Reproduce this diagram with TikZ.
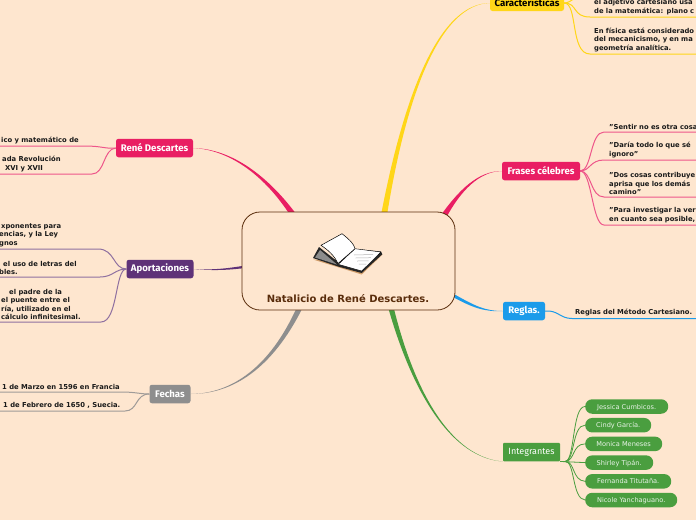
\documentclass[tikz,border=0pt]{standalone}
\usepackage{fontspec}
\setmainfont{DejaVu Sans}
\newfontfamily\hubfont{Fira Sans}
\usetikzlibrary{positioning, backgrounds}
\definecolor{peachbg}{HTML}{FEE6CF}
\definecolor{rootbrown}{HTML}{5A2D0C}
\definecolor{renepink}{HTML}{E91E63}
\definecolor{aportpurple}{HTML}{5F3278}
\definecolor{fechasgrey}{HTML}{8E8E8E}
\definecolor{caractyellow}{HTML}{FFD618}
\definecolor{reglasblue}{HTML}{1B9BEA}
\definecolor{integreen}{HTML}{4A9E3F}
\definecolor{darktext}{HTML}{1A1A1A}

\begin{document}
\begin{tikzpicture}[
    x=1pt, y=-1pt,
    % --- node styles ---
    root/.style={
        rectangle, rounded corners=18pt, minimum width=213pt, minimum height=98pt,
        draw=rootbrown, line width=0.8pt, fill=peachbg
    },
    roottitle/.style={font=\bfseries\fontsize{10}{12}\selectfont, text=rootbrown, inner sep=0pt},
    hub/.style={
        rectangle, rounded corners=2.5pt, inner sep=0pt, minimum height=18.5pt,
        text=white, font=\hubfont\fontseries{sb}\fontsize{9.6}{11}\selectfont
    },
    leaf/.style={
        inner xsep=0pt, inner ysep=2.2pt, align=left, text=darktext,
        font=\bfseries\fontsize{6.8}{8.4}\selectfont
    },
    pill/.style={
        rectangle, rounded corners=7pt, inner sep=0pt, minimum height=14.5pt,
        fill=integreen, text=white!88!integreen, text depth=0pt,
        font=\fontsize{6.6}{8}\selectfont
    },
    renebranch/.style={draw=renepink!75, line width=1pt},
    aportbranch/.style={draw=aportpurple!70, line width=1pt},
    fechasbranch/.style={draw=fechasgrey!85!peachbg, line width=1pt},
    caractbranch/.style={draw=caractyellow, line width=1pt},
    reglasbranch/.style={draw=reglasblue, line width=1pt},
    integbranch/.style={draw=integreen, line width=0.8pt},
]

\useasboundingbox (0,0) rectangle (696,520);
\clip (0,0) rectangle (696,520);

% ===== ROOT =====
\node[root] (root) at (348.5,261) {};
\node[roottitle] (roottext) at (348,299) {Natalicio de René Descartes.};

% ===== BOOK =====
\fill[brown!70!peachbg] (313,259.5) -- (361.7,274.5) -- (382.5,254.5) -- (360,262) -- cycle;
\fill[black!85] (313,258) -- (319,247) -- (338,262) -- (355,249) -- (381,251.5) -- (382.3,254.3) -- (361.7,273) -- (338,266.5) -- cycle;
\fill[black!45] (315,257.5) -- (320,250) -- (337,264.5) -- cycle;
\fill[white, draw=black, line width=0.4pt] (355,248.7) -- (381,252) -- (361.7,271) -- (338.3,264.3) -- cycle;
\foreach \i in {0,1,2,3} {
    \draw[black!30, line width=0.5pt] (354+\i*1.6,255+\i*3) -- (373-\i*2.2,254.5+\i*3.2);
}
\fill[white, draw=black, line width=0.5pt] (321,245.3) -- (342,233.7) .. controls (350,240) and (354,244) .. (355,248.7) -- (338,263.5) .. controls (334,255) and (328,250) .. (321,245.3) -- cycle;

% ===== HUBS =====
\node[hub, fill=renepink, minimum width=77pt] (rene) at (154.5,148) {René Descartes};
\node[hub, fill=aportpurple, minimum width=67pt] (aport) at (160,269) {Aportaciones};
\node[hub, fill=fechasgrey, minimum width=41pt] (fechas) at (170,394) {Fechas};
\node[hub, fill=caractyellow, text=black, minimum width=74pt, minimum height=16pt] (caract) at (527,3) {Características};
\node[hub, fill=renepink, minimum width=78pt] (frases) at (541,171) {Frases célebres};
\node[hub, fill=reglasblue, minimum width=42pt] (reglas) at (524,311) {Reglas.};
\node[hub, fill=integreen, minimum width=57pt, rounded corners=1pt, font=\hubfont\fontsize{9}{11}\selectfont] (integ) at (531.5,452) {Integrantes};

% ===== LEFT LEAVES =====
\node[leaf, anchor=south west] (rene1) at (-1,146) {\hspace*{2pt}ico y matemático de};
\node[leaf, anchor=south west] (rene2) at (-1,174) {\hspace*{3pt}ada Revolución\\\hspace*{6pt}XVI y XVII};

\node[leaf, anchor=south west] (aport1) at (-1,249) {\hspace*{2pt}xponentes para\\encias, y la Ley\\gnos};
\node[leaf, anchor=south west] (aport2) at (-1,277) {\hspace*{4pt}el uso de letras del\\bles.};
\node[leaf, anchor=south west] (aport3) at (-1,322) {\hspace*{10pt}el padre de la\\\hspace*{2pt}el puente entre el\\\hspace*{2pt}ría, utilizado en el\\\hspace*{2pt}cálculo infinitesimal.};

\node[leaf, anchor=south west] (fechas1) at (-1,392) {\hspace*{3pt}1 de Marzo en 1596 en Francia};
\node[leaf, anchor=south west] (fechas2) at (-1,411) {\hspace*{4pt}1 de Febrero de 1650 , Suecia.};

% ===== RIGHT LEAVES =====
\node[leaf, anchor=south west, text width=104pt] (caract2) at (594,17) {el adjetivo cartesiano usa\\de la matemática: plano c};
\node[leaf, anchor=south west, text width=104pt] (caract3) at (594,54) {En física está considerado\\del mecanicismo, y en ma\\geometría analítica.};

\node[leaf, anchor=south west, text width=89pt] (frases1) at (609,132) {"Sentir no es otra cosa};
\node[leaf, anchor=south west, text width=89pt] (frases2) at (609,160) {"Daría todo lo que sé\\ignoro"};
\node[leaf, anchor=south west, text width=89pt] (frases3) at (609,197) {"Dos cosas contribuye\\aprisa que los demás\\camino"};
\node[leaf, anchor=south west, text width=89pt] (frases4) at (609,225) {"Para investigar la ver\\en cuanto sea posible,};

\node[leaf, anchor=south west, text width=124pt] (reglas1) at (575,318.5) {Reglas del Método Cartesiano.};

% ===== PILLS =====
\node[pill, anchor=west, minimum width=83pt] (jessica) at (585,406.5) {Jessica Cumbicos.};
\node[pill, below=3.8pt of jessica.south west, anchor=north west, minimum width=66pt] (cindy) {Cindy García.};
\node[pill, below=3.8pt of cindy.south west, anchor=north west, minimum width=77pt] (monica) {Monica Meneses};
\node[pill, below=3.8pt of monica.south west, anchor=north west, minimum width=68pt] (shirley) {Shirley Tipán.};
\node[pill, below=3.8pt of shirley.south west, anchor=north west, minimum width=86pt] (fernanda) {Fernanda Titutaña.};
\node[pill, below=3.8pt of fernanda.south west, anchor=north west, minimum width=92pt] (nicole) {Nicole Yanchaguano.};

% ===== BRANCHES =====
\begin{scope}[on background layer]
    \fill[peachbg] (0,0) rectangle (696,520);

    % thick ends go under the root box
    \fill[renepink] (rene.east) .. controls (232,150) and (266,178) .. (290,215) -- (295,212.5) .. controls (268,177) and (233,149) .. (rene.east);
    \fill[aportpurple] (aport.east) .. controls (210,270) and (225,269) .. (245,265.5) -- (245,268) .. controls (225,270.5) and (210,270.5) .. (aport.east);
    \fill[fechasgrey] (fechas.east) .. controls (232,393.5) and (270,367) .. (297,307) -- (302,309) .. controls (272,368.5) and (233,394) .. (fechas.east);
    \fill[caractyellow] (caract.west) .. controls (440,3.5) and (405,90) .. (381,215) -- (387,215) .. controls (407,91) and (441,4.5) .. (caract.west);
    \fill[renepink] (frases.west) .. controls (478,171) and (459,190) .. (441,215) -- (446,218) .. controls (460.5,191) and (479,171.5) .. (frases.west);
    \fill[reglasblue] (reglas.west) .. controls (485,311) and (475,306) .. (453,293.5) -- (452,296.5) .. controls (473,308) and (485,312) .. (reglas.west);
    \fill[integreen] (integ.south west) .. controls (452,458) and (413,395) .. (388,307) -- (393.5,307) .. controls (415,394) and (452,457.5) .. (integ.south west);

    \draw[renebranch] (rene.west) .. controls (105,149) and (102,146) .. (85,146) -- (rene1.south west);
    \draw[renebranch] (rene.west) .. controls (103,149) and (105,174) .. (92,174) -- (rene2.south west);

    \draw[aportbranch] (aport.west) .. controls (113,269) and (115,249) .. (98,249) -- (aport1.south west);
    \draw[aportbranch] (aport.west) .. controls (115,269) and (113,277) .. (100,277) -- (aport2.south west);
    \draw[aportbranch] (aport.west) .. controls (115,269) and (118,322) .. (101,322) -- (aport3.south west);

    \draw[fechasbranch] (fechas.west) .. controls (140,394) and (135,392) .. (122,392) -- (fechas1.south west);
    \draw[fechasbranch] (fechas.west) .. controls (135,394) and (138,411) .. (125,411) -- (fechas2.south west);

    \draw[caractbranch] (caract.east) .. controls (572,3) and (575,-6) .. (590,-6);
    \draw[caractbranch] (caract.east) .. controls (578,3) and (572,17) .. (590,17) -- (caract2.south east);
    \draw[caractbranch] (caract.east) .. controls (578,3) and (570,54) .. (590,54) -- (caract3.south east);

    \draw[renebranch] (frases.east) .. controls (592,171) and (590,132) .. (604,132) -- (frases1.south east);
    \draw[renebranch] (frases.east) .. controls (590,171) and (590,160) .. (604,160) -- (frases2.south east);
    \draw[renebranch] (frases.east) .. controls (592,171) and (590,197) .. (604,197) -- (frases3.south east);
    \draw[renebranch] (frases.east) .. controls (592,171) and (592,225) .. (604,225) -- (frases4.south east);

    \draw[reglasbranch] (reglas.east) .. controls (558,310) and (560,318.5) .. (572,318.5) -- (reglas1.south east);

    \draw[integbranch] (integ.south east) -- ++(5,0) .. controls (575,461) and (572,406.5) .. (jessica.west);
    \draw[integbranch] (integ.south east) -- ++(5,0) .. controls (575,461) and (572,425) .. (cindy.west);
    \draw[integbranch] (integ.south east) -- ++(5,0) .. controls (575,461) and (572,444) .. (monica.west);
    \draw[integbranch] (integ.south east) -- (shirley.west);
    \draw[integbranch] (integ.south east) -- ++(5,0) .. controls (575,461) and (572,480.5) .. (fernanda.west);
    \draw[integbranch] (integ.south east) -- ++(5,0) .. controls (575,461) and (572,499) .. (nicole.west);
\end{scope}

\end{tikzpicture}
\end{document}
